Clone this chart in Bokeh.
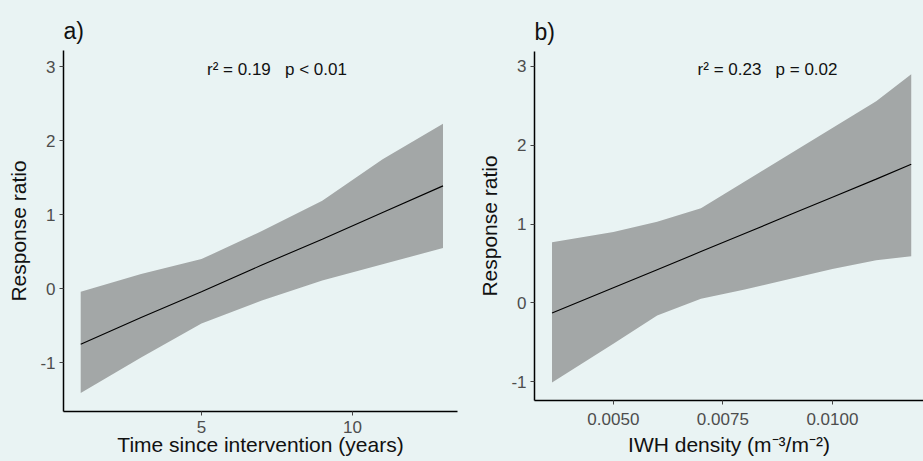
from bokeh.plotting import figure
from bokeh.layouts import row
from bokeh.models import Label, Range1d, FixedTicker, NumeralTickFormatter
from bokeh.embed import file_html
from bokeh.resources import INLINE

# Panel a: time since intervention
a_x = [1, 3, 5, 7, 9, 11, 13]
a_fit = [-0.75, -0.39, -0.04, 0.32, 0.67, 1.03, 1.39]
a_upper = [-0.04, 0.20, 0.40, 0.78, 1.19, 1.75, 2.23]
a_lower = [-1.41, -0.93, -0.47, -0.16, 0.11, 0.33, 0.55]
a_xticks = [5, 10]

# Panel b: IWH density
b_x = [0.0036, 0.0050, 0.0060, 0.0070, 0.0080, 0.0090, 0.0100, 0.0110, 0.0118]
b_fit = [-0.13, 0.19, 0.42, 0.65, 0.88, 1.11, 1.34, 1.57, 1.76]
b_upper = [0.77, 0.90, 1.03, 1.20, 1.54, 1.88, 2.22, 2.56, 2.90]
b_lower = [-1.01, -0.52, -0.16, 0.05, 0.17, 0.30, 0.43, 0.54, 0.59]
b_xticks = [0.0050, 0.0075, 0.0100]

y_ticks = [-1, 0, 1, 2, 3]

BG = "#e9f3f3"
BAND = "#a3a7a7"
FONT = "Liberation Sans"
NB = "\u00a0"


def style(p, tag, xtick_standoff, xlab_standoff):
    p.background_fill_color = BG
    p.border_fill_color = BG
    p.outline_line_color = None
    p.xgrid.visible = False
    p.ygrid.visible = False
    for ax in (p.xaxis[0], p.yaxis[0]):
        ax.axis_line_color = "black"
        ax.axis_line_width = 1.5
        ax.major_tick_line_color = "#444444"
        ax.major_tick_line_width = 1
        ax.major_tick_out = 4
        ax.major_tick_in = 0
        ax.minor_tick_line_color = None
        ax.major_label_text_font = FONT
        ax.major_label_text_font_size = "17px"
        ax.major_label_text_color = "#4d4d4d"
        ax.axis_label_text_font = FONT
        ax.axis_label_text_font_size = "21px"
        ax.axis_label_text_font_style = "normal"
        ax.axis_label_text_color = "#111111"
    p.yaxis[0].major_label_standoff = 4
    p.xaxis[0].major_label_standoff = xtick_standoff
    p.yaxis[0].axis_label_standoff = 7
    p.xaxis[0].axis_label_standoff = xlab_standoff
    p.yaxis[0].ticker = FixedTicker(ticks=y_ticks)
    p.yaxis[0].formatter = NumeralTickFormatter(format="0")
    p.title.text = tag
    p.title.align = "left"
    p.title.text_font = FONT
    p.title.text_font_size = "23px"
    p.title.text_font_style = "normal"
    p.title.text_color = "#111111"
    p.title.standoff = 13


pa = figure(width=461, height=461, output_backend="svg", toolbar_location=None,
            x_range=Range1d(0.43, 13.48), y_range=Range1d(-1.66, 3.22),
            min_border_left=63, min_border_right=4, min_border_top=50, min_border_bottom=50,
            frame_align=False)
style(pa, "a)", 5, -3)
pa.varea(x=a_x, y1=a_lower, y2=a_upper, fill_color=BAND, fill_alpha=1)
pa.line(x=a_x, y=a_fit, line_color="black", line_width=1.1)
pa.xaxis[0].ticker = FixedTicker(ticks=a_xticks)
pa.xaxis.axis_label = "Time since intervention (years)"
pa.yaxis.axis_label = "Response ratio"
pa.add_layout(Label(x=7.5, y=2.96, text="r² = 0.19" + NB * 3 + "p < 0.01", text_align="center",
                    text_baseline="middle", text_font=FONT, text_font_size="17px",
                    text_color="#111111"))

pb = figure(width=462, height=461, output_backend="svg", toolbar_location=None,
            x_range=Range1d(0.0032, 0.01208), y_range=Range1d(-1.24, 3.19),
            min_border_left=73, min_border_right=0, min_border_top=51, min_border_bottom=61,
            frame_align=False)
style(pb, "b)", 8, 5)
pb.varea(x=b_x, y1=b_lower, y2=b_upper, fill_color=BAND, fill_alpha=1)
pb.line(x=b_x, y=b_fit, line_color="black", line_width=1.1)
pb.xaxis[0].ticker = FixedTicker(ticks=b_xticks)
pb.xaxis[0].formatter = NumeralTickFormatter(format="0.0000")
pb.xaxis.axis_label = "IWH density (m⁻³/m⁻²)"
pb.yaxis.axis_label = "Response ratio"
pb.add_layout(Label(x=0.00852, y=2.96, text="r² = 0.23" + NB * 3 + "p = 0.02", text_align="center",
                    text_baseline="middle", text_font=FONT, text_font_size="17px",
                    text_color="#111111"))

p = row(pa, pb, spacing=0)
p.styles = {"background-color": BG}

html = file_html(p, INLINE)
html = html.replace("<body>", '<body style="background-color: %s;">' % BG)
open("out.html", "w").write(html)
